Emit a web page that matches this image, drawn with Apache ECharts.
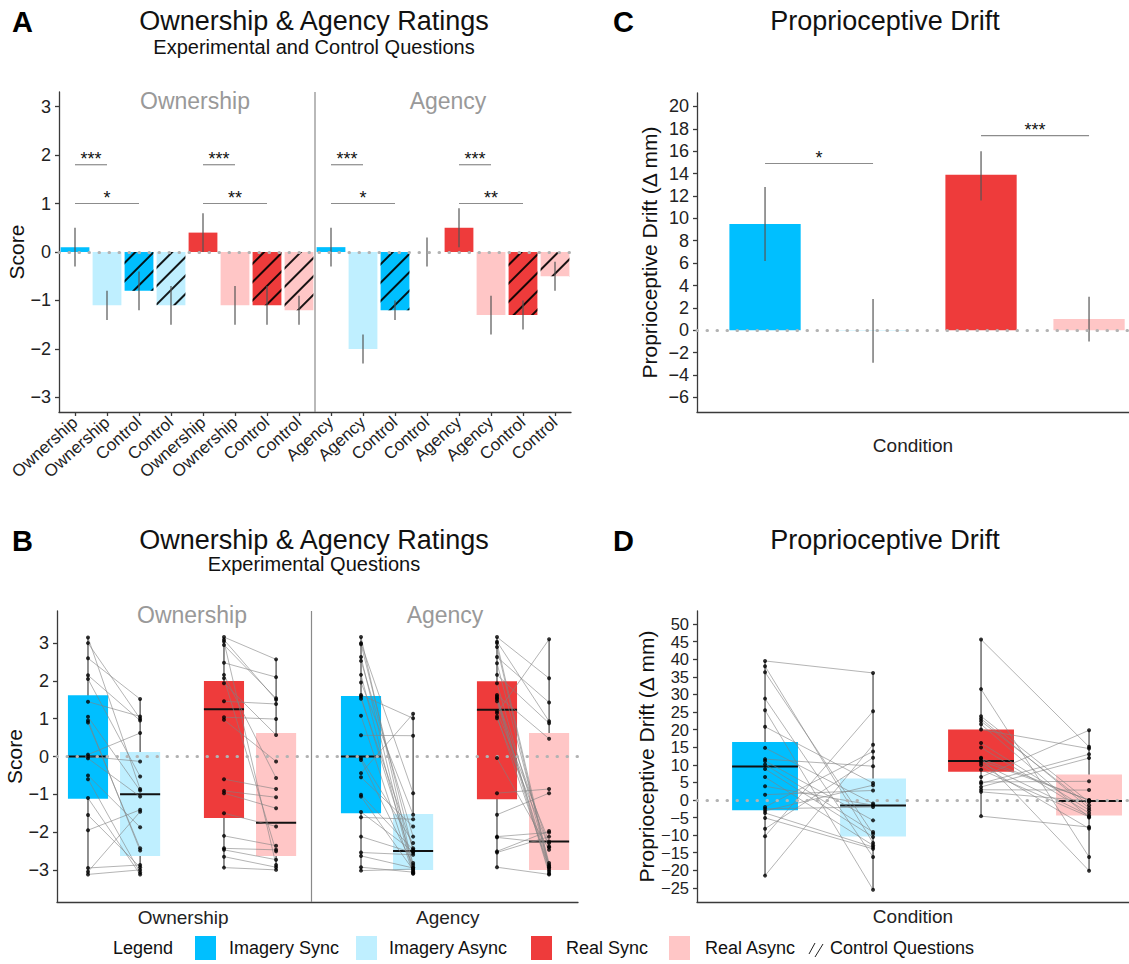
<!DOCTYPE html>
<html><head><meta charset="utf-8">
<script src="https://cdn.jsdelivr.net/npm/echarts@6/dist/echarts.min.js"></script>
<style>html,body{margin:0;padding:0;background:#fff}#chart{width:1129px;height:964px}</style>
</head><body><div id="chart"></div>
<script>
// ================= DATA =================
const conditionNames  = ['Imagery Sync', 'Imagery Async', 'Real Sync', 'Real Async'];
const conditionColors = ['#00BFFF', '#BFEFFF', '#EE3B3B', '#FFC6C6'];

// ---- Panel A: mean ratings (experimental + control questions) ----
const aCategories = ['Ownership','Ownership','Control','Control','Ownership','Ownership','Control','Control',
                     'Agency','Agency','Control','Control','Agency','Agency','Control','Control'];
const aCondition  = [0,1,0,1,2,3,2,3, 0,1,0,1,2,3,2,3];
const aIsControl  = [0,0,1,1,0,0,1,1, 0,0,1,1,0,0,1,1];
const aMeans   = [0.1,-1.1,-0.8,-1.1, 0.4,-1.1,-1.1,-1.2,  0.1,-2.0,-1.2, 0.0, 0.5,-1.3,-1.3,-0.5];
const aErrLow  = [-0.3,-1.4,-1.2,-1.5, 0.0,-1.5,-1.5,-1.5, -0.3,-2.3,-1.4,-0.3, 0.1,-1.7,-1.6,-0.8];
const aErrHigh = [0.5,-0.8,-0.4,-0.7, 0.8,-0.7,-0.7,-0.9,  0.5,-1.7,-1.0, 0.3, 0.9,-0.9,-1.0,-0.2];
const aSigFrom  = [0, 0, 4, 4, 8, 8, 12, 12];
const aSigTo    = [1, 2, 5, 6, 9, 10, 13, 14];
const aSigY     = [1.8, 1.0, 1.8, 1.0, 1.8, 1.0, 1.8, 1.0];
const aSigLabel = ['***', '*', '***', '**', '***', '*', '***', '**'];
const aSeparatorAfter = 7;
const aTicks = [-3, -2, -1, 0, 1, 2, 3];

// ---- Panel B: individual ratings (experimental questions) ----
const ownImgSync   = [3.15, 3.0, 2.6, 2.15, 2.05, 1.45, 1.05, 0.95, 0.9, 0.05, 0.0, -0.05, -0.5, -0.6, -1.1, -1.55, -1.95, -2.95, -3.05, -3.12];
const ownImgAsync  = [-0.86, 1.0, 1.52, 0.95, -0.53, 1.06, -0.9, -2.49, -2.43, 0.62, -0.13, -1.06, -1.87, -3.07, -3.12, -2.93, -1.41, -2.87, -1.46, -3.0];
const ownRealSync  = [3.16, 3.09, 3.04, 2.95, 2.48, 2.16, 2.07, 1.94, 1.46, 1.04, 0.97, -0.6, -0.91, -0.97, -1.5, -2.1, -2.43, -2.47, -2.65, -2.94];
const ownRealAsync = [2.57, 1.5, -2.87, 1.54, 2.1, -0.57, -2.51, 0.57, 1.39, 0.99, -0.13, -0.86, -1.08, -1.37, -1.85, -2.36, -2.47, -2.73, -2.93, -3.0];
const agImgSync    = [3.16, 3.0, 2.97, 2.63, 2.53, 2.16, 1.96, 1.63, 1.59, 1.53, 1.08, 0.56, -0.04, -0.09, -0.44, -0.55, -1.01, -1.06, -1.47, -1.61, -2.12, -2.54, -2.63, -2.93, -3.02];
const agImgAsync   = [-2.93, -0.97, -2.5, -3.04, -2.12, -3.09, -1.54, 1.01, -2.82, -2.43, -3.1, 0.55, -2.29, -2.87, 1.13, -1.85, -2.47, -3.0, -2.51, -1.66, -2.55, -2.6, -2.95, -3.06, -2.98];
const agRealSync   = [3.16, 3.04, 3.0, 2.9, 2.63, 2.47, 2.16, 1.94, 1.63, 1.59, 1.55, 1.52, 1.46, 1.2, 1.15, 1.06, 1.01, -0.04, -0.97, -1.54, -2.12, -2.14, -2.51, -2.54, -2.93];
const agRealAsync  = [2.07, 0.93, -2.9, -3.0, 1.43, -2.82, 0.88, -2.87, 0.47, -3.05, -2.38, -2.93, -3.1, -2.25, 3.1, -2.95, -2.4, -2.47, -0.86, -0.97, -2.01, -2.29, -1.97, -2.12, -3.12];
const bPoints    = [ownImgSync, ownImgAsync, ownRealSync, ownRealAsync, agImgSync, agImgAsync, agRealSync, agRealAsync];
const bPositions = [1.19, 3.19, 6.41, 8.41, 11.67, 13.67, 16.89, 18.89];
const bQ1     = [-1.12, -2.63, -1.63, -2.63, -1.5, -3.0, -1.13, -3.0];
const bMedian = [0, -1.0, 1.25, -1.75, 0, -2.5, 1.24, -2.25];
const bQ3     = [1.62, 0.12, 2.0, 0.62, 1.6, -1.52, 1.99, 0.62];
const bPairs  = [[0,1],[2,3],[4,5],[6,7]];
const bFacetNames = ['Ownership', 'Agency'];
const bFacetLabelPos = [4.84, 15.0];
const bSeparator = 9.75;
const bTicks = [-3, -2, -1, 0, 1, 2, 3];

// ---- Panel C: proprioceptive drift means ----
const cMeans   = [9.5, -0.05, 13.9, 1.0];
const cErrLow  = [6.2, -2.9, 11.6, -1.0];
const cErrHigh = [12.8, 2.8, 16.0, 3.0];
const cSigFrom = [0, 2];
const cSigTo   = [1, 3];
const cSigY    = [14.9, 17.4];
const cSigLabel = ['*', '***'];
const cTicks = [-6, -4, -2, 0, 2, 4, 6, 8, 10, 12, 14, 16, 18, 20];

// ---- Panel D: individual proprioceptive drift ----
const dImgSync   = [39.5, 38.0, 36.3, 28.8, 25.5, 20.8, 14.8, 11.6, 11.1, 10.1, 8.8, 6.5, 3.9, 1.5, -2.0, -2.5, -3.1, -3.7, -5.1, -8.2, -10.3, -21.5];
const dImgAsync  = [36.1, -12.2, -9.6, -16.2, -25.5, 4.8, -1.0, 9.6, -5.8, -9.1, -10.5, -12.9, -1.5, 2.7, 13.8, -2.0, 4.2, -13.4, -13.9, 12.0, 25.2, 15.7];
const dRealSync  = [45.6, 31.5, 23.8, 23.1, 22.4, 21.5, 20.0, 16.2, 14.9, 12.0, 11.8, 11.1, 10.5, 9.9, 8.6, 6.5, 5.1, 4.7, 3.7, 2.9, 2.3, -4.6];
const dRealAsync = [15.1, -16.2, -0.6, -2.3, -1.5, -5.0, 14.6, -2.9, -3.7, -20.1, -0.1, 0.0, -4.4, -8.1, -4.8, 19.8, 5.3, 13.0, 11.9, 2.8, -0.3, -7.7];
const dPoints = [dImgSync, dImgAsync, dRealSync, dRealAsync];
const dQ1     = [-2.9, -10.4, 8.0, -4.4];
const dMedian = [9.5, -1.6, 11.1, -0.3];
const dQ3     = [16.5, 6.1, 20.0, 7.2];
const dPairs  = [[0,1],[2,3]];
const dTicks = [-25, -20, -15, -10, -5, 0, 5, 10, 15, 20, 25, 30, 35, 40, 45, 50];
const cdPositions = [0, 1, 2, 3];

// ================= CHART =================
const FONT = '"Liberation Sans", Arial, Helvetica, sans-serif';
const chart = echarts.init(document.getElementById('chart'), null, {renderer: 'svg', width: 1129, height: 964});

const minusFmt = v => (v < 0 ? '\u2212' + Math.abs(v) : String(v));
const axisLineStyle = {color: '#3a3a3a', width: 1.3};
const zeroLine = {yAxis: 0, lineStyle: {color: '#b3b3b3', width: 3, type: [0.5, 9.5], cap: 'round'}};
const hatchDecal = {symbol: 'rect', symbolSize: 1, color: 'rgba(0,0,0,0.9)', dashArrayX: [1, 0], dashArrayY: [1.2, 10.5], rotation: -Math.PI / 4};

function errRender(params, api) {
  const p1 = api.coord([api.value(0), api.value(1)]);
  const p2 = api.coord([api.value(0), api.value(2)]);
  return {type: 'line', shape: {x1: p1[0], y1: p1[1], x2: p2[0], y2: p2[1]}, style: {stroke: '#555', lineWidth: 1.2}};
}
function sigRender(fromArr, toArr, yArr, labArr) {
  return function (params, api) {
    const i = params.dataIndex;
    const p1 = api.coord([fromArr[i], yArr[i]]);
    const p2 = api.coord([toArr[i], yArr[i]]);
    return {type: 'group', children: [
      {type: 'line', shape: {x1: p1[0], y1: p1[1], x2: p2[0], y2: p2[1]}, style: {stroke: '#8c8c8c', lineWidth: 1.2}},
      {type: 'text', x: (p1[0] + p2[0]) / 2, y: p1[1] - 6,
       style: {text: labArr[i], fill: '#111', font: '18px ' + FONT, align: 'center', verticalAlign: 'middle'}}
    ]};
  };
}
function boxRender(widthUnits, colorOf) {
  return function (params, api) {
    const pos = api.value(0);
    const w = api.size([widthUnits, 0])[0];
    const pQ1 = api.coord([pos, api.value(1)]);
    const pMd = api.coord([pos, api.value(2)]);
    const pQ3 = api.coord([pos, api.value(3)]);
    const pLo = api.coord([pos, api.value(4)]);
    const pHi = api.coord([pos, api.value(5)]);
    return {type: 'group', children: [
      {type: 'line', shape: {x1: pLo[0], y1: pLo[1], x2: pHi[0], y2: pHi[1]}, style: {stroke: '#222', lineWidth: 1}},
      {type: 'rect', shape: {x: pQ1[0] - w / 2, y: pQ3[1], width: w, height: pQ1[1] - pQ3[1]}, style: {fill: colorOf(params.dataIndex)}},
      {type: 'line', shape: {x1: pMd[0] - w / 2, y1: pMd[1], x2: pMd[0] + w / 2, y2: pMd[1]}, style: {stroke: '#111', lineWidth: 2}}
    ]};
  };
}
function pairRender(params, api) {
  const p1 = api.coord([api.value(0), api.value(1)]);
  const p2 = api.coord([api.value(2), api.value(3)]);
  return {type: 'line', shape: {x1: p1[0], y1: p1[1], x2: p2[0], y2: p2[1]}, style: {stroke: 'rgba(130,130,130,0.75)', lineWidth: 0.8}};
}
function pairData(points, positions, pairs) {
  const out = [];
  pairs.forEach(([a, b]) => points[a].forEach((v, i) => out.push([positions[a], v, positions[b], points[b][i]])));
  return out;
}
function pointData(points, positions) {
  const out = [];
  points.forEach((arr, k) => arr.forEach(v => out.push([positions[k], v])));
  return out;
}
function boxData(points, positions, q1, med, q3) {
  return points.map((arr, k) => [positions[k], q1[k], med[k], q3[k], Math.min(...arr), Math.max(...arr)]);
}

const yAxisBase = (grid, min, max, ticks, fs) => ({
  gridIndex: grid, type: 'value', min: min, max: max,
  axisLine: {show: true, onZero: false, lineStyle: axisLineStyle},
  axisTick: {show: true, customValues: ticks, length: 4, lineStyle: axisLineStyle},
  axisLabel: {customValues: ticks, formatter: minusFmt, fontSize: fs, color: '#222', margin: 8, fontFamily: FONT,
              showMinLabel: true, showMaxLabel: true, hideOverlap: false},
  splitLine: {show: false}
});

function txt(x, y, text, size, extra) {
  return Object.assign({type: 'text', x: x, y: y, silent: true,
    style: Object.assign({text: text, font: size + 'px ' + FONT, fill: '#111', align: 'center', verticalAlign: 'middle'}, (extra || {}))});
}

const legendGraphics = [txt(113, 948, 'Legend', 18, {align: 'left'})];
const legendSwatchX = [195, 356, 531, 669];
const legendTextX   = [229, 389, 566, 705];
conditionNames.forEach((n, i) => {
  legendGraphics.push({type: 'rect', shape: {x: legendSwatchX[i], y: 936, width: 21, height: 24}, style: {fill: conditionColors[i]}});
  legendGraphics.push(txt(legendTextX[i], 948, n, 18, {align: 'left'}));
});
legendGraphics.push({type: 'line', shape: {x1: 809, y1: 954, x2: 815, y2: 943}, style: {stroke: '#222', lineWidth: 1}});
legendGraphics.push({type: 'line', shape: {x1: 815, y1: 957, x2: 823, y2: 944}, style: {stroke: '#222', lineWidth: 1}});
legendGraphics.push(txt(830, 948, 'Control Questions', 18, {align: 'left'}));

const option = {
  animation: false,
  backgroundColor: '#fff',
  textStyle: {fontFamily: FONT},
  grid: [
    {left: 59, top: 92, width: 512, height: 320, outerBoundsMode: 'none'},
    {left: 57, top: 611, width: 521, height: 291, outerBoundsMode: 'none'},
    {left: 697, top: 93, width: 432, height: 319, outerBoundsMode: 'none'},
    {left: 697, top: 611, width: 432, height: 291, outerBoundsMode: 'none'}
  ],
  xAxis: [
    {gridIndex: 0, type: 'category', data: aCategories,
     axisLine: {show: true, onZero: false, lineStyle: axisLineStyle},
     axisTick: {show: true, alignWithLabel: true, length: 4, lineStyle: axisLineStyle},
     axisLabel: {interval: 0, rotate: 42, fontSize: 17, color: '#222', margin: 8, fontFamily: FONT},
     splitLine: {show: false}},
    {gridIndex: 1, type: 'value', min: 0, max: 20,
     axisLine: {show: true, onZero: false, lineStyle: axisLineStyle}, axisTick: {show: false}, splitLine: {show: false},
     axisLabel: {customValues: bFacetLabelPos, fontSize: 19, color: '#222', margin: 6, fontFamily: FONT,
       showMinLabel: true, showMaxLabel: true,
       formatter: v => {
         let best = 0;
         bFacetLabelPos.forEach((p, i) => { if (Math.abs(p - v) < Math.abs(bFacetLabelPos[best] - v)) best = i; });
         return bFacetNames[best];
       }}},
    {gridIndex: 2, type: 'value', min: -0.63, max: 3.37,
     axisLine: {show: true, onZero: false, lineStyle: axisLineStyle}, axisTick: {show: false}, axisLabel: {show: false}, splitLine: {show: false},
     name: 'Condition', nameLocation: 'middle', nameGap: 24, nameTextStyle: {fontSize: 19, color: '#222', fontFamily: FONT}},
    {gridIndex: 3, type: 'value', min: -0.63, max: 3.37,
     axisLine: {show: true, onZero: false, lineStyle: axisLineStyle}, axisTick: {show: false}, axisLabel: {show: false}, splitLine: {show: false},
     name: 'Condition', nameLocation: 'middle', nameGap: 5, nameTextStyle: {fontSize: 19, color: '#222', fontFamily: FONT}}
  ],
  yAxis: [
    Object.assign(yAxisBase(0, -3.3, 3.3, aTicks, 18), {name: 'Score', nameLocation: 'middle', nameGap: 30, nameTextStyle: {fontSize: 21, color: '#111', fontFamily: FONT}}),
    Object.assign(yAxisBase(1, -3.85, 3.85, bTicks, 18), {name: 'Score', nameLocation: 'middle', nameGap: 30, nameTextStyle: {fontSize: 21, color: '#111', fontFamily: FONT}}),
    Object.assign(yAxisBase(2, -7.3, 21.2, cTicks, 18), {name: 'Proprioceptive Drift (\u0394 mm)', nameLocation: 'middle', nameGap: 37, nameTextStyle: {fontSize: 21, color: '#111', fontFamily: FONT}}),
    Object.assign(yAxisBase(3, -29, 53.7, dTicks, 16.5), {name: 'Proprioceptive Drift (\u0394 mm)', nameLocation: 'middle', nameGap: 39, nameTextStyle: {fontSize: 21, color: '#111', fontFamily: FONT}})
  ],
  series: [
    // ----- A -----
    {type: 'bar', xAxisIndex: 0, yAxisIndex: 0, barWidth: '90%', z: 2,
     data: aMeans.map((v, i) => {
       const st = {color: conditionColors[aCondition[i]]};
       if (aIsControl[i]) st.decal = hatchDecal;
       return {value: v, itemStyle: st};
     }),
     markLine: {silent: true, symbol: ['none', 'none'], label: {show: false}, data: [zeroLine]}},
    {type: 'custom', xAxisIndex: 0, yAxisIndex: 0, z: 4, renderItem: errRender,
     data: aMeans.map((v, i) => [i, aErrLow[i], aErrHigh[i]])},
    {type: 'custom', xAxisIndex: 0, yAxisIndex: 0, z: 4, renderItem: sigRender(aSigFrom, aSigTo, aSigY, aSigLabel),
     data: aSigFrom.map((f, i) => [f, aSigY[i]])},
    {type: 'custom', xAxisIndex: 0, yAxisIndex: 0, z: 4, data: [[aSeparatorAfter, 0]],
     renderItem: (params, api) => {
       const cs = params.coordSys;
       const c = api.coord([api.value(0), 0]);
       const x = c[0] + api.size([1, 0])[0] / 2;
       return {type: 'line', shape: {x1: x, y1: cs.y, x2: x, y2: cs.y + cs.height}, style: {stroke: '#8a8a8a', lineWidth: 1.2}};
     }},
    // ----- B -----
    {type: 'custom', xAxisIndex: 1, yAxisIndex: 1, z: 2,
     renderItem: boxRender(1.54, k => conditionColors[k % 4]),
     data: boxData(bPoints, bPositions, bQ1, bMedian, bQ3)},
    {type: 'custom', xAxisIndex: 1, yAxisIndex: 1, z: 3, renderItem: pairRender,
     data: pairData(bPoints, bPositions, bPairs)},
    {type: 'scatter', xAxisIndex: 1, yAxisIndex: 1, z: 5, symbolSize: 4, itemStyle: {color: '#000'},
     data: pointData(bPoints, bPositions),
     markLine: {silent: true, symbol: ['none', 'none'], label: {show: false},
       data: [zeroLine, {xAxis: bSeparator, lineStyle: {color: '#8a8a8a', width: 1.2, type: 'solid'}}]}},
    // ----- C -----
    {type: 'custom', xAxisIndex: 2, yAxisIndex: 2, z: 2,
     data: cMeans.map((v, i) => [cdPositions[i], v]),
     renderItem: (params, api) => {
       const x = api.value(0);
       const w = api.size([0.66, 0])[0];
       const p0 = api.coord([x, 0]), p1 = api.coord([x, api.value(1)]);
       return {type: 'rect', shape: {x: p0[0] - w / 2, y: Math.min(p0[1], p1[1]), width: w, height: Math.abs(p1[1] - p0[1])},
               style: {fill: conditionColors[params.dataIndex]}};
     }},
    {type: 'custom', xAxisIndex: 2, yAxisIndex: 2, z: 4, renderItem: errRender,
     data: cMeans.map((v, i) => [cdPositions[i], cErrLow[i], cErrHigh[i]]),
     markLine: {silent: true, symbol: ['none', 'none'], label: {show: false}, data: [zeroLine]}},
    {type: 'custom', xAxisIndex: 2, yAxisIndex: 2, z: 4, renderItem: sigRender(cSigFrom, cSigTo, cSigY, cSigLabel),
     data: cSigFrom.map((f, i) => [f, cSigY[i]])},
    // ----- D -----
    {type: 'custom', xAxisIndex: 3, yAxisIndex: 3, z: 2,
     renderItem: boxRender(0.61, k => conditionColors[k]),
     data: boxData(dPoints, cdPositions, dQ1, dMedian, dQ3)},
    {type: 'custom', xAxisIndex: 3, yAxisIndex: 3, z: 3, renderItem: pairRender,
     data: pairData(dPoints, cdPositions, dPairs)},
    {type: 'scatter', xAxisIndex: 3, yAxisIndex: 3, z: 5, symbolSize: 4, itemStyle: {color: '#000'},
     data: pointData(dPoints, cdPositions),
     markLine: {silent: true, symbol: ['none', 'none'], label: {show: false}, data: [zeroLine]}}
  ],
  graphic: [
    txt(12, 22, 'A', 29, {align: 'left', font: 'bold 29px ' + FONT, fill: '#000'}),
    txt(314, 21, 'Ownership & Agency Ratings', 27),
    txt(314, 47, 'Experimental and Control Questions', 20),
    txt(195, 101, 'Ownership', 23, {fill: '#999'}),
    txt(448, 101, 'Agency', 23, {fill: '#999'}),

    txt(12, 541, 'B', 29, {align: 'left', font: 'bold 29px ' + FONT, fill: '#000'}),
    txt(314, 540, 'Ownership & Agency Ratings', 27),
    txt(314, 564, 'Experimental Questions', 20),
    txt(192, 615, 'Ownership', 23, {fill: '#999'}),
    txt(445, 615, 'Agency', 23, {fill: '#999'}),

    txt(613, 22, 'C', 29, {align: 'left', font: 'bold 29px ' + FONT, fill: '#000'}),
    txt(885, 21, 'Proprioceptive Drift', 27),
    txt(613, 541, 'D', 29, {align: 'left', font: 'bold 29px ' + FONT, fill: '#000'}),
    txt(885, 540, 'Proprioceptive Drift', 27)
  ].concat(legendGraphics)
};
chart.setOption(option);
</script>
</body></html>
